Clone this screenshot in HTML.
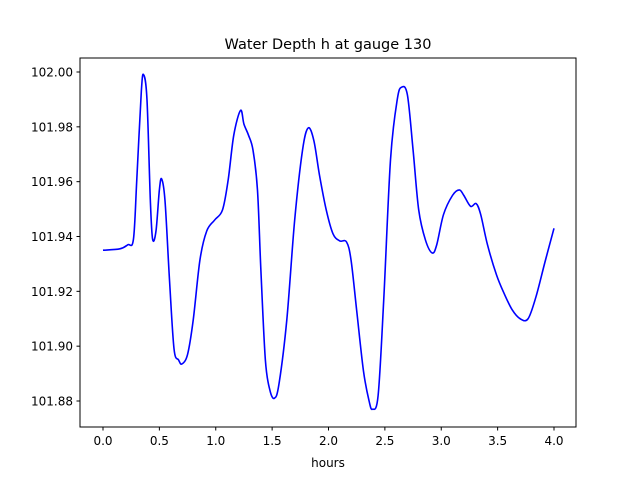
<!DOCTYPE html>
<html><head><meta charset="utf-8"><style>
html,body{margin:0;padding:0;background:#fff}
svg text{font-family:"DejaVu Sans","Liberation Sans",sans-serif;fill:#000}
</style></head><body>
<svg id="chart" width="640" height="480" viewBox="0 0 640 480">
<rect x="0" y="0" width="640" height="480" fill="#fff"/>
<text x="328" y="49" font-size="14.5" text-anchor="middle">Water Depth h at gauge 130</text>
<g id="plot"></g>
<rect x="80" y="58" width="496" height="369" fill="none" stroke="#000" stroke-width="1"/>
<text x="328" y="467" font-size="12" text-anchor="middle">hours</text>
</svg>
<script>
const hours=[0,0.15,0.22,0.27,0.30,0.34,0.36,0.39,0.42,0.44,0.47,0.50,0.52,0.55,0.59,0.63,0.67,0.70,0.75,0.80,0.86,0.92,0.99,1.06,1.11,1.16,1.22,1.25,1.29,1.33,1.37,1.40,1.44,1.48,1.52,1.56,1.63,1.70,1.77,1.82,1.87,1.92,1.98,2.04,2.10,2.16,2.20,2.25,2.31,2.36,2.39,2.44,2.49,2.55,2.61,2.65,2.70,2.75,2.80,2.86,2.92,2.96,3.02,3.10,3.16,3.20,3.26,3.31,3.35,3.41,3.49,3.56,3.63,3.70,3.77,3.84,3.92,4.00];
const depth=[101.935,101.9355,101.937,101.939,101.961,101.993,101.999,101.990,101.953,101.939,101.942,101.957,101.961,101.953,101.924,101.899,101.895,101.8935,101.897,101.9095,101.9315,101.942,101.946,101.9497,101.9606,101.977,101.986,101.981,101.977,101.9716,101.957,101.928,101.895,101.884,101.881,101.886,101.9095,101.946,101.9716,101.9796,101.975,101.9624,101.9497,101.941,101.9384,101.938,101.9314,101.913,101.891,101.880,101.877,101.882,101.917,101.968,101.990,101.9945,101.9916,101.9716,101.9497,101.9387,101.934,101.937,101.948,101.955,101.957,101.955,101.951,101.952,101.948,101.937,101.926,101.919,101.9132,101.910,101.910,101.918,101.9307,101.943];
const xTicks=[0,0.5,1,1.5,2,2.5,3,3.5,4];
const yTicks=[101.88,101.90,101.92,101.94,101.96,101.98,102.00];
function xs(t){return 103+t*112.75;}
function ys(v){return 72+(102.00-v)*2741.7;}
const NS="http://www.w3.org/2000/svg";
const g=document.getElementById('plot');
xTicks.forEach(t=>{
  const l=document.createElementNS(NS,'line');
  l.setAttribute('x1',xs(t));l.setAttribute('x2',xs(t));l.setAttribute('y1',427);l.setAttribute('y2',430.5);l.setAttribute('stroke','#000');
  
  
  g.appendChild(l);
  const tx=document.createElementNS(NS,'text');
  tx.setAttribute('x',xs(t));tx.setAttribute('y',445);tx.setAttribute('font-size','12');tx.setAttribute('text-anchor','middle');
  tx.textContent=t.toFixed(1);
  
  
  g.appendChild(tx);
});
yTicks.forEach(v=>{
  const l=document.createElementNS(NS,'line');
  l.setAttribute('x1',76.5);l.setAttribute('x2',80);l.setAttribute('y1',ys(v));l.setAttribute('y2',ys(v));l.setAttribute('stroke','#000');
  
  
  g.appendChild(l);
  const tx=document.createElementNS(NS,'text');
  tx.setAttribute('x',73);tx.setAttribute('y',ys(v)+4.5);tx.setAttribute('font-size','12');tx.setAttribute('text-anchor','end');
  tx.textContent=v.toFixed(2);
  
  
  g.appendChild(tx);
});
// smooth line via Catmull-Rom
const pts=hours.map((t,i)=>[xs(t),ys(depth[i])]);
let d='M'+pts[0][0]+','+pts[0][1];
for(let i=0;i<pts.length-1;i++){
  const p0=pts[Math.max(i-1,0)],p1=pts[i],p2=pts[i+1],p3=pts[Math.min(i+2,pts.length-1)];
  const c1=[p1[0]+(p2[0]-p0[0])/6,p1[1]+(p2[1]-p0[1])/6];
  const c2=[p2[0]-(p3[0]-p1[0])/6,p2[1]-(p3[1]-p1[1])/6];
  d+=' C'+c1[0]+','+c1[1]+' '+c2[0]+','+c2[1]+' '+p2[0]+','+p2[1];
}
const path=document.createElementNS(NS,'path');
path.setAttribute('d',d);path.setAttribute('fill','none');path.setAttribute('stroke','#0000ff');path.setAttribute('stroke-width','1.6');


g.appendChild(path);
</script>
</body></html>
